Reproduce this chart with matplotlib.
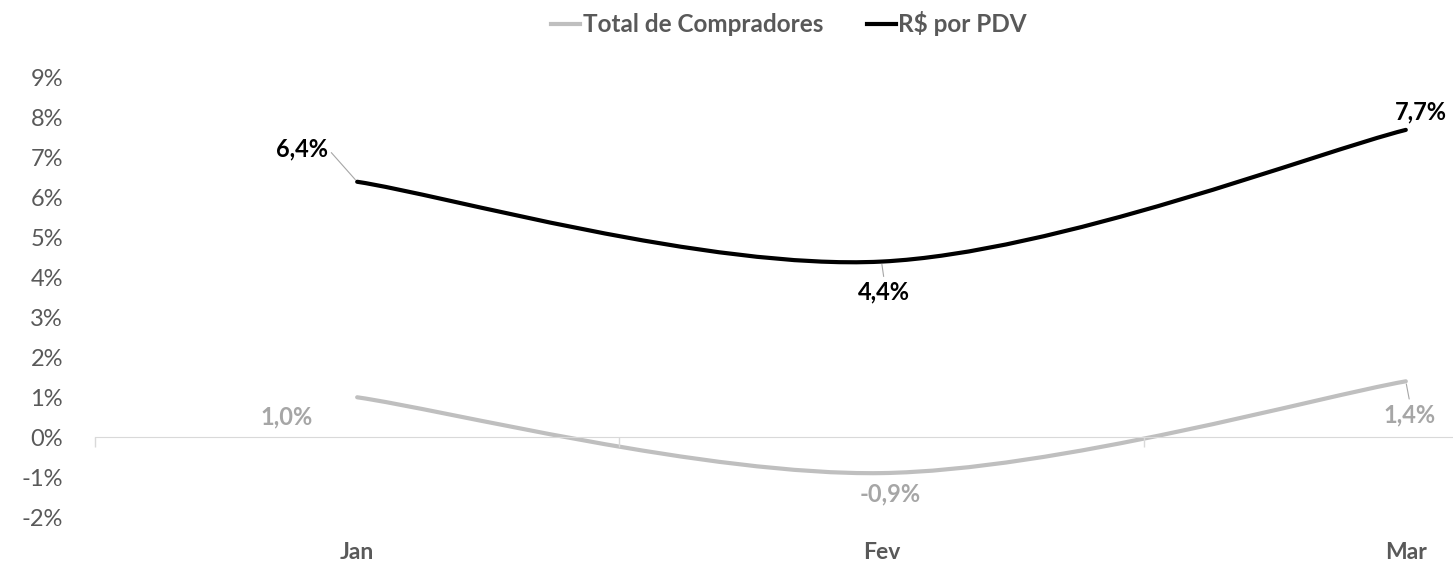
import numpy as np
import matplotlib
matplotlib.use("Agg")
import matplotlib.pyplot as plt
from matplotlib.path import Path
from matplotlib.patches import PathPatch
from matplotlib.lines import Line2D

plt.rcParams['font.family'] = ['Lato', 'DejaVu Sans']

months = ["Jan", "Fev", "Mar"]
compradores = [1.0, -0.9, 1.4]
rs_pdv = [6.4, 4.4, 7.7]
yticks = list(range(-2, 10))

gray_line = '#BFBFBF'
gray_lbl = '#A6A6A6'
txt = '#595959'


def smooth_path(xs, ys):
    # Excel style smoothed line (Catmull-Rom as cubic Bezier)
    pts = np.column_stack([xs, ys]).astype(float)
    n = len(pts)
    verts = [pts[0]]
    codes = [Path.MOVETO]
    for i in range(n - 1):
        p0 = pts[max(i - 1, 0)]
        p1 = pts[i]
        p2 = pts[i + 1]
        p3 = pts[min(i + 2, n - 1)]
        verts += [p1 + (p2 - p0) / 6, p2 - (p3 - p1) / 6, p2]
        codes += [Path.CURVE4] * 3
    return Path(verts, codes)


fig = plt.figure(figsize=(14.53, 5.69), dpi=100)
ax = fig.add_axes([95 / 1453, 1 - 517 / 569, 1 - 95 / 1453, (517 - 78) / 569])

x = np.arange(len(months))
ax.add_patch(PathPatch(smooth_path(x, compradores), fill=False, edgecolor=gray_line,
                       lw=3, capstyle='round', clip_on=False))
ax.add_patch(PathPatch(smooth_path(x, rs_pdv), fill=False, edgecolor='black',
                       lw=3, capstyle='round', clip_on=False))

# y axis
ax.set_yticks(yticks)
ax.set_yticklabels([f"{t}%" for t in yticks])
ax.tick_params(axis='y', length=0, pad=23, labelsize=17, labelcolor=txt)

# category axis line at zero with boundary ticks
for s in ['left', 'right', 'top']:
    ax.spines[s].set_visible(False)
ax.spines['bottom'].set_position(('data', 0))
ax.spines['bottom'].set_color('#D9D9D9')
ax.set_xticks([])
ax.set_xticks(np.arange(-0.5, len(months)), minor=True)
ax.tick_params(axis='x', which='minor', direction='out', length=7, color='#D9D9D9', width=1)

ax.set_xlim(-0.5, 2.09)
ax.set_ylim(-2, 9)

sec = ax.secondary_xaxis(0)
sec.set_xticks(x)
sec.set_xticklabels(months, fontweight='bold')
sec.spines['bottom'].set_visible(False)
sec.tick_params(axis='x', length=0, pad=18, labelsize=16.5, labelcolor=txt)

# data labels
lbl_kw = dict(textcoords='offset points', ha='center', va='center',
              fontsize=17, fontweight='bold', annotation_clip=False)
lead = dict(arrowstyle='-', color=gray_lbl, lw=0.8, shrinkA=1, shrinkB=2)

rs_offsets = [(-40, 24), (2, -22), (11, 13)]
rs_leader = [(1, 0.5), (0.5, 1), None]
for i, v in enumerate(rs_pdv):
    ap = None
    if rs_leader[i] is not None:
        ap = dict(lead, relpos=rs_leader[i])
    ax.annotate(f"{v:.1f}%".replace('.', ','), xy=(i, v), xytext=rs_offsets[i],
                color='black', arrowprops=ap, **lbl_kw)

cp_offsets = [(-51, -14), (6, -15), (3, -24)]
cp_leader = [None, None, (0.5, 1)]
for i, v in enumerate(compradores):
    ap = None
    if cp_leader[i] is not None:
        ap = dict(lead, relpos=cp_leader[i])
    ax.annotate(f"{v:.1f}%".replace('.', ','), xy=(i, v), xytext=cp_offsets[i],
                color=gray_lbl, arrowprops=ap, **lbl_kw)

handles = [Line2D([], [], color=gray_line, lw=3), Line2D([], [], color='black', lw=3)]
leg = fig.legend(handles, ["Total de Compradores", "R$ por PDV"], loc='center',
                 bbox_to_anchor=(789 / 1453, 1 - 24 / 569), ncol=2, frameon=False,
                 handlelength=1.2, handletextpad=0.1, columnspacing=1.8,
                 prop=dict(size=17.5, weight='bold'))
for t in leg.get_texts():
    t.set_color(txt)

fig.savefig("out.png", dpi=100)
